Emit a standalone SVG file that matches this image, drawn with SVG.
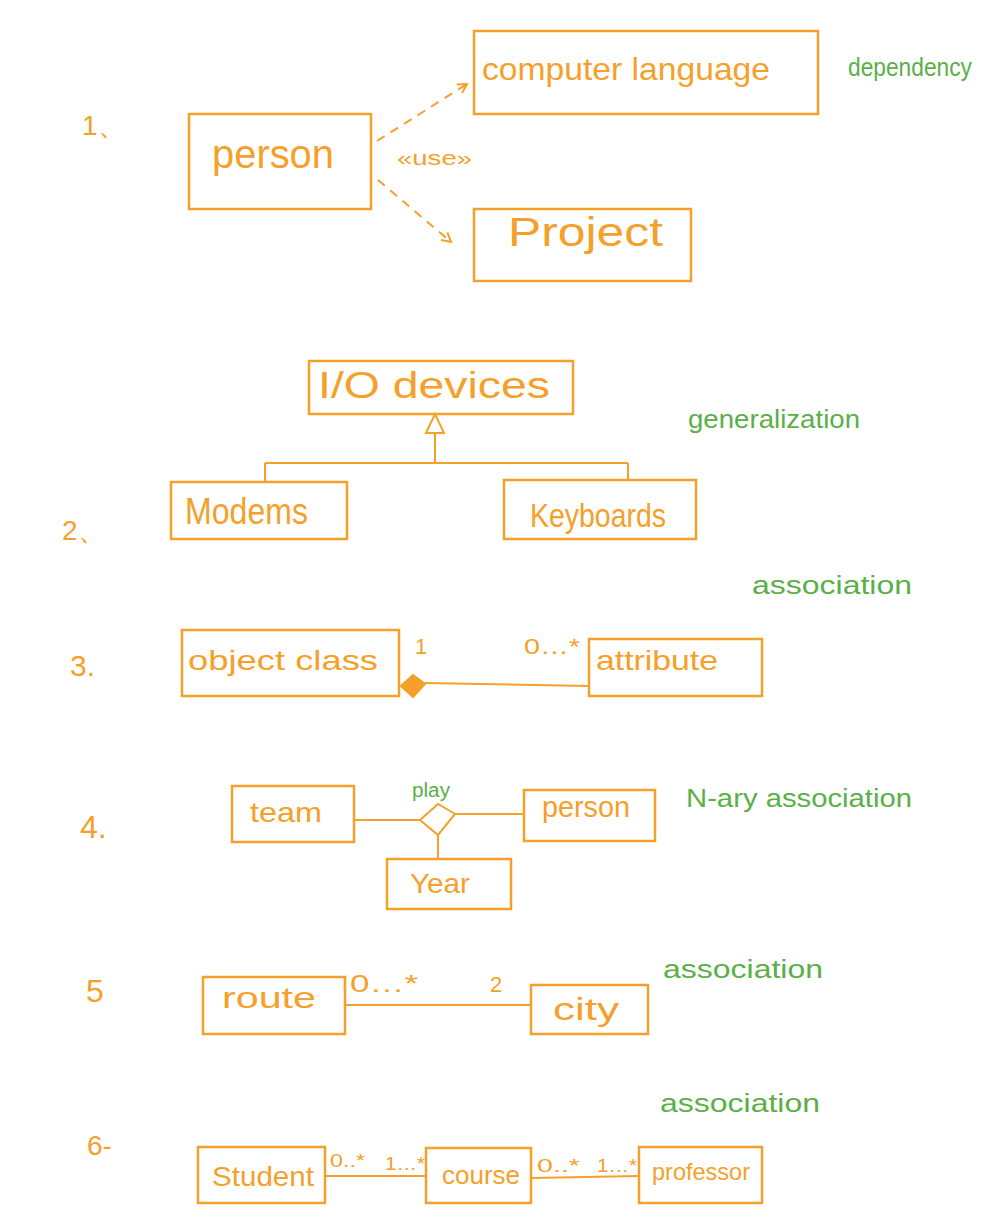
<svg xmlns="http://www.w3.org/2000/svg" width="1002" height="1226" viewBox="0 0 1002 1226">
<style>
.box{fill:none;stroke:#F5A02A;stroke-width:2.5}
.ln{fill:none;stroke:#F5A02A;stroke-width:2}
.dash{fill:none;stroke:#F5A02A;stroke-width:2;stroke-dasharray:9 7}
.o{fill:#F5A02A;font-family:"Liberation Sans",Arial,sans-serif}
.g{fill:#5BAF47;font-family:"Liberation Sans",Arial,sans-serif}
</style>
<defs>
<marker id="open" viewBox="0 0 12 12" refX="10" refY="6" markerWidth="12" markerHeight="12" markerUnits="userSpaceOnUse" orient="auto">
<path d="M1,1 L10,6 L1,11" fill="none" stroke="#F5A02A" stroke-width="2"/>
</marker>
</defs>
<rect width="1002" height="1226" fill="#ffffff"/>

<g id="labels">
<text class="o" x="82" y="135" font-size="28">1、</text>
<text class="o" x="62" y="540" font-size="28">2、</text>
<text class="o" x="70" y="676" font-size="30">3.</text>
<text class="o" x="80" y="838" font-size="32">4.</text>
<text class="o" x="86" y="1002" font-size="32">5</text>
<text class="o" x="87" y="1155" font-size="28">6-</text>
<text class="g" x="848" y="76" font-size="26" textLength="124" lengthAdjust="spacingAndGlyphs">dependency</text>
<text class="g" x="688" y="428" font-size="26" textLength="172" lengthAdjust="spacingAndGlyphs">generalization</text>
<text class="g" x="752" y="594" font-size="26" textLength="160" lengthAdjust="spacingAndGlyphs">association</text>
<text class="g" x="686" y="807" font-size="26" textLength="226" lengthAdjust="spacingAndGlyphs">N-ary association</text>
<text class="g" x="663" y="978" font-size="26" textLength="160" lengthAdjust="spacingAndGlyphs">association</text>
<text class="g" x="660" y="1112" font-size="26" textLength="160" lengthAdjust="spacingAndGlyphs">association</text>
</g>

<g id="connectors">
<path class="dash" d="M377,141 L467,84" marker-end="url(#open)"/>
<path class="dash" d="M378,180 L451,242" marker-end="url(#open)"/>
<text class="o" x="397" y="165" font-size="20" textLength="75" lengthAdjust="spacingAndGlyphs">«use»</text>
<polygon points="435,414 426,433 444,433" fill="#ffffff" stroke="#F5A02A" stroke-width="2"/>
<path class="ln" d="M435,433 L435,463 M265,463 L628,463 M265,463 L265,482 M628,463 L628,480"/>
<path class="ln" d="M425,683 L589,686"/>
<polygon points="401,686 413,675 425,684 413,697" fill="#F5A02A" stroke="#F5A02A" stroke-width="2"/>
<text class="o" x="415" y="654" font-size="22">1</text>
<text class="o" x="524" y="654" font-size="22" textLength="56" lengthAdjust="spacingAndGlyphs">0…*</text>
<path class="ln" d="M354,820 L420,820 M455,814 L524,814 M438,835 L438,859"/>
<polygon points="420,820 438,804 455,814 438,835" fill="#ffffff" stroke="#F5A02A" stroke-width="2"/>
<text class="g" x="412" y="797" font-size="20" textLength="38" lengthAdjust="spacingAndGlyphs">play</text>
<path class="ln" d="M345,1005 L531,1005"/>
<text class="o" x="350" y="992" font-size="24" textLength="68" lengthAdjust="spacingAndGlyphs">0…*</text>
<text class="o" x="490" y="992" font-size="22">2</text>
<path class="ln" d="M325,1176 L426,1176 M531,1178 L639,1176"/>
<text class="o" x="330" y="1167" font-size="18" textLength="35" lengthAdjust="spacingAndGlyphs">0..*</text>
<text class="o" x="385" y="1170" font-size="18" textLength="40" lengthAdjust="spacingAndGlyphs">1…*</text>
<text class="o" x="537" y="1172" font-size="18" textLength="43" lengthAdjust="spacingAndGlyphs">0..*</text>
<text class="o" x="597" y="1172" font-size="18" textLength="40" lengthAdjust="spacingAndGlyphs">1…*</text>
</g>

<g id="person1"><rect class="box" x="189" y="114" width="182" height="95"/><text class="o" x="212" y="168" font-size="40" textLength="122" lengthAdjust="spacingAndGlyphs">person</text></g>
<g id="computer-language"><rect class="box" x="474" y="31" width="344" height="83"/><text class="o" x="482" y="80" font-size="32" textLength="288" lengthAdjust="spacingAndGlyphs">computer language</text></g>
<g id="project"><rect class="box" x="474" y="209" width="217" height="72"/><text class="o" x="508" y="246" font-size="40" textLength="155" lengthAdjust="spacingAndGlyphs">Project</text></g>

<g id="io-devices"><rect class="box" x="309" y="361" width="264" height="53"/><text class="o" x="318" y="398" font-size="36" textLength="232" lengthAdjust="spacingAndGlyphs">I/O devices</text></g>
<g id="modems"><rect class="box" x="171" y="482" width="176" height="57"/><text class="o" x="185" y="524" font-size="36" textLength="123" lengthAdjust="spacingAndGlyphs">Modems</text></g>
<g id="keyboards"><rect class="box" x="504" y="480" width="192" height="59"/><text class="o" x="530" y="527" font-size="34" textLength="136" lengthAdjust="spacingAndGlyphs">Keyboards</text></g>

<g id="object-class"><rect class="box" x="182" y="630" width="217" height="66"/><text class="o" x="188" y="670" font-size="28" textLength="190" lengthAdjust="spacingAndGlyphs">object class</text></g>
<g id="attribute"><rect class="box" x="589" y="639" width="173" height="57"/><text class="o" x="596" y="670" font-size="28" textLength="122" lengthAdjust="spacingAndGlyphs">attribute</text></g>

<g id="team"><rect class="box" x="232" y="786" width="122" height="56"/><text class="o" x="250" y="822" font-size="28" textLength="72" lengthAdjust="spacingAndGlyphs">team</text></g>
<g id="person4"><rect class="box" x="524" y="790" width="131" height="51"/><text class="o" x="542" y="817" font-size="30" textLength="88" lengthAdjust="spacingAndGlyphs">person</text></g>
<g id="year"><rect class="box" x="387" y="859" width="124" height="50"/><text class="o" x="410" y="893" font-size="28" textLength="60" lengthAdjust="spacingAndGlyphs">Year</text></g>

<g id="route"><rect class="box" x="203" y="977" width="142" height="57"/><text class="o" x="222" y="1008" font-size="30" textLength="94" lengthAdjust="spacingAndGlyphs">route</text></g>
<g id="city"><rect class="box" x="531" y="985" width="117" height="49"/><text class="o" x="553" y="1020" font-size="32" textLength="66" lengthAdjust="spacingAndGlyphs">city</text></g>

<g id="student"><rect class="box" x="198" y="1147" width="127" height="56"/><text class="o" x="212" y="1186" font-size="28" textLength="102" lengthAdjust="spacingAndGlyphs">Student</text></g>
<g id="course"><rect class="box" x="426" y="1148" width="105" height="55"/><text class="o" x="442" y="1184" font-size="26" textLength="78" lengthAdjust="spacingAndGlyphs">course</text></g>
<g id="professor"><rect class="box" x="639" y="1147" width="123" height="56"/><text class="o" x="652" y="1180" font-size="24" textLength="98" lengthAdjust="spacingAndGlyphs">professor</text></g>
</svg>
